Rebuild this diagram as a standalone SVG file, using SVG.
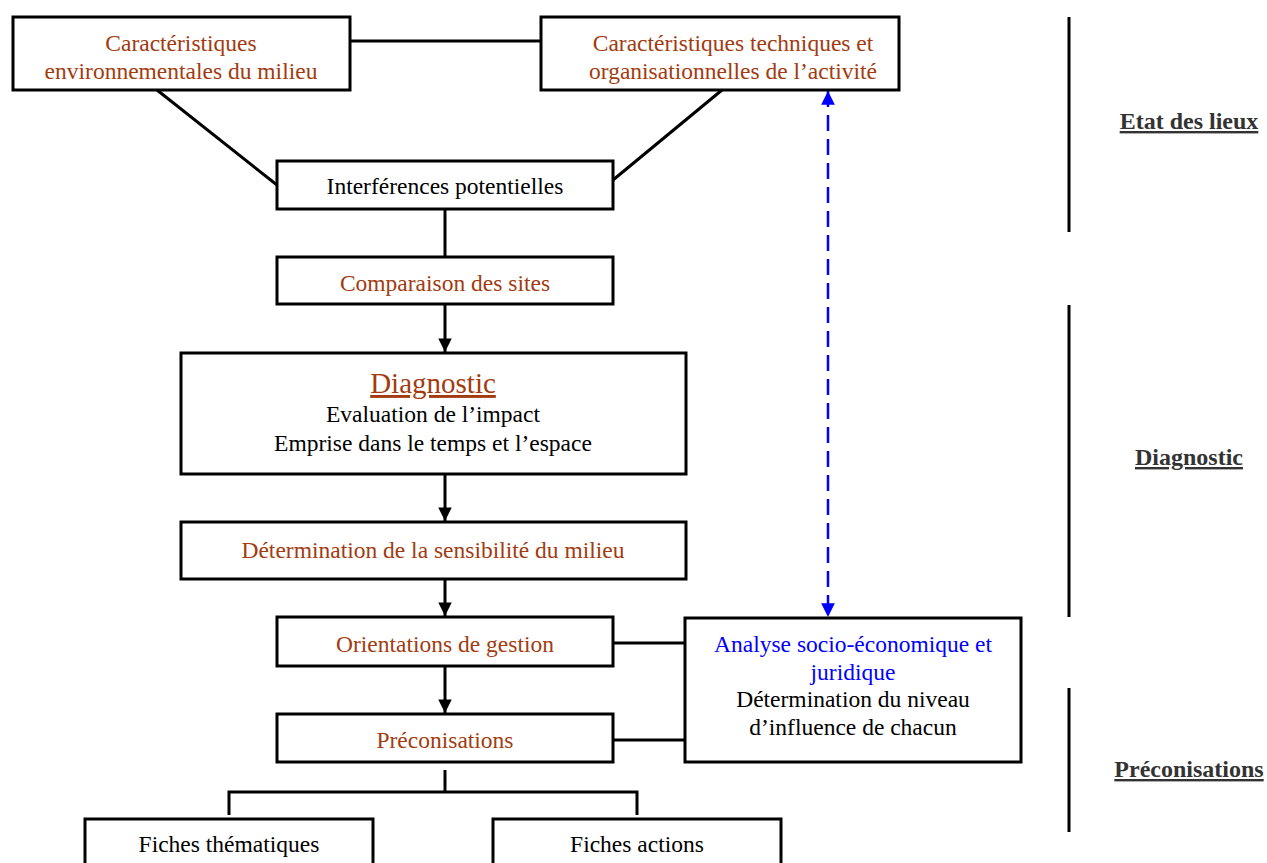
<svg xmlns="http://www.w3.org/2000/svg" width="1267" height="863" viewBox="0 0 1267 863">
<style>
.box{fill:#fff;stroke:#000;stroke-width:3}
.t{font-family:"Liberation Serif","Times New Roman",serif;font-size:23.5px;text-anchor:middle}
.br{fill:#A33B10}
.bk{fill:#000}
.bl{fill:#0000FF}
.ln{stroke:#000;stroke-width:3;fill:none}
.side{font-family:"Liberation Serif","Times New Roman",serif;font-size:24px;font-weight:bold;fill:#333;text-decoration:underline;text-anchor:middle}
</style>
<defs>
<marker id="ah" viewBox="0 0 10 10" refX="10" refY="5" markerWidth="5" markerHeight="4.5" orient="auto" markerUnits="strokeWidth"><path d="M0,0 L10,5 L0,10 z" fill="#000"/></marker>
<marker id="bh" viewBox="0 0 10 10" refX="10" refY="5" markerWidth="6.5" markerHeight="5.5" orient="auto-start-reverse" markerUnits="strokeWidth"><path d="M0,0 L10,5 L0,10 z" fill="#0000FF"/></marker>
</defs>
<g id="connectors">
<line class="ln" x1="350" y1="41" x2="541" y2="41"/>
<line class="ln" x1="157" y1="90" x2="277" y2="185"/>
<line class="ln" x1="722" y1="90" x2="613" y2="180"/>
<line class="ln" x1="445" y1="209" x2="445" y2="257"/>
<line class="ln" x1="445" y1="304" x2="445" y2="352" marker-end="url(#ah)"/>
<line class="ln" x1="445" y1="474" x2="445" y2="521" marker-end="url(#ah)"/>
<line class="ln" x1="445" y1="579" x2="445" y2="616" marker-end="url(#ah)"/>
<line class="ln" x1="445" y1="666" x2="445" y2="713" marker-end="url(#ah)"/>
<line class="ln" x1="613" y1="643" x2="685" y2="643"/>
<line class="ln" x1="613" y1="740" x2="685" y2="740"/>
<polyline class="ln" points="445,770 445,792"/>
<polyline class="ln" points="229,815 229,792 637,792 637,815"/>
<line x1="828" y1="91" x2="828" y2="617" stroke="#0000FF" stroke-width="2.5" stroke-dasharray="16,8" marker-start="url(#bh)" marker-end="url(#bh)"/>
<line class="ln" x1="1069" y1="17" x2="1069" y2="232"/>
<line class="ln" x1="1069" y1="305" x2="1069" y2="617"/>
<line class="ln" x1="1069" y1="688" x2="1069" y2="832"/>
</g>
<g id="n1"><rect class="box" x="13" y="17" width="337" height="73"/>
<text class="t br" x="181" y="51">Caractéristiques</text>
<text class="t br" x="181" y="79">environnementales du milieu</text></g>
<g id="n2"><rect class="box" x="541" y="17" width="358" height="73"/>
<text class="t br" x="733" y="51">Caractéristiques techniques et</text>
<text class="t br" x="733" y="79">organisationnelles de l’activité</text></g>
<g id="n3"><rect class="box" x="277" y="161" width="336" height="48"/>
<text class="t bk" x="445" y="194">Interférences potentielles</text></g>
<g id="n4"><rect class="box" x="277" y="257" width="336" height="47"/>
<text class="t br" x="445" y="291">Comparaison des sites</text></g>
<g id="n5"><rect class="box" x="181" y="353" width="505" height="121"/>
<text class="t br" x="433" y="393" style="font-size:29px;text-decoration:underline">Diagnostic</text>
<text class="t bk" x="433" y="422">Evaluation de l’impact</text>
<text class="t bk" x="433" y="451">Emprise dans le temps et l’espace</text></g>
<g id="n6"><rect class="box" x="181" y="522" width="505" height="57"/>
<text class="t br" x="433" y="558">Détermination de la sensibilité du milieu</text></g>
<g id="n7"><rect class="box" x="277" y="617" width="336" height="49"/>
<text class="t br" x="445" y="652">Orientations de gestion</text></g>
<g id="n8"><rect class="box" x="277" y="714" width="336" height="48"/>
<text class="t br" x="445" y="748">Préconisations</text></g>
<g id="n9"><rect class="box" x="685" y="618" width="336" height="144"/>
<text class="t bl" x="853" y="652">Analyse socio-économique et</text>
<text class="t bl" x="853" y="680">juridique</text>
<text class="t bk" x="853" y="707">Détermination du niveau</text>
<text class="t bk" x="853" y="735">d’influence de chacun</text></g>
<g id="n10"><rect class="box" x="85" y="819" width="288" height="50"/>
<text class="t bk" x="229" y="852">Fiches thématiques</text></g>
<g id="n11"><rect class="box" x="493" y="819" width="288" height="50"/>
<text class="t bk" x="637" y="852">Fiches actions</text></g>
<g id="labels">
<text class="side" x="1189" y="129">Etat des lieux</text>
<text class="side" x="1189" y="465">Diagnostic</text>
<text class="side" x="1189" y="777">Préconisations</text>
</g>
</svg>
